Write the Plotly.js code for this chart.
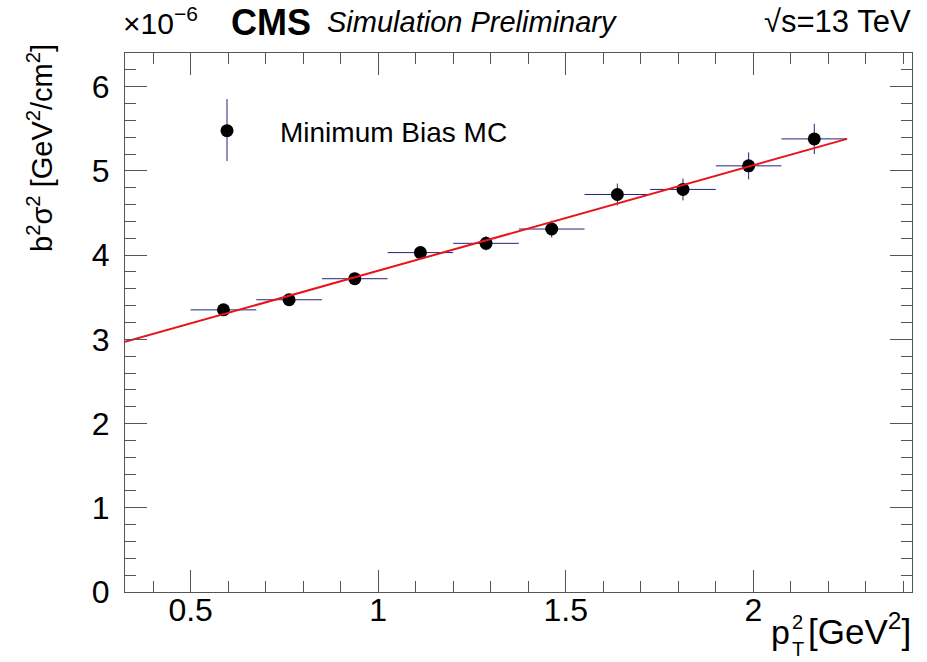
<!DOCTYPE html>
<html>
<head>
<meta charset="utf-8">
<script src="https://cdn.plot.ly/plotly-3.0.1.min.js"></script>
<style>html,body{margin:0;padding:0;background:#fff;}#chart{width:927px;height:662px;}</style>
</head>
<body>
<div id="chart"></div>
<script>
// ---- data (y in units of 1e-6 GeV^2/cm^2) ----
const binCenters = [0.5875, 0.7625, 0.9375, 1.1125, 1.2875, 1.4625, 1.6375, 1.8125, 1.9875, 2.1625];
const binHalfWidth = [0.0875, 0.0875, 0.0875, 0.0875, 0.0875, 0.0875, 0.0875, 0.0875, 0.0875, 0.0875];
const b2sigma2 = [3.35, 3.47, 3.72, 4.03, 4.14, 4.31, 4.72, 4.78, 5.06, 5.38];
const b2sigma2Err = [0.05, 0.06, 0.07, 0.07, 0.085, 0.10, 0.13, 0.13, 0.16, 0.18];
const fitX = [0.325, 2.25];
const fitY = [2.97, 5.38];
const xTickVals = [0.5, 1, 1.5, 2];
const xTickText = ["0.5", "1", "1.5", "2"];
const yTickVals = [0, 1, 2, 3, 4, 5, 6];
const yTickText = ["0", "1", "2", "3", "4", "5", "6"];

// ---- layout geometry (pixels) ----
const W = 927, H = 662;
const M = {l: 125, r: 15, t: 53, b: 70};
const pw = W - M.l - M.r, ph = H - M.t - M.b;
const px = x => (x - M.l) / pw;
const py = y => (H - M.b - y) / ph;

const FONT = "Liberation Sans, Arial, Helvetica, sans-serif";
const frameCol = "#555555";
const errCol = "#23237e";

const traces = [
  {
    x: binCenters, y: b2sigma2, type: "scatter", mode: "markers",
    name: "Minimum Bias MC",
    marker: {color: "#000000", size: 13},
    error_y: {type: "data", array: b2sigma2Err, visible: true, color: errCol, thickness: 1, width: 0},
    error_x: {type: "data", array: binHalfWidth, visible: true, color: errCol, thickness: 1, width: 0},
    showlegend: true
  },
  {
    x: fitX, y: fitY, type: "scatter", mode: "lines", name: "fit",
    line: {color: "#e8141b", width: 2}, showlegend: false
  }
];

const axisCommon = {
  showgrid: false, zeroline: false, showline: true, linecolor: frameCol, linewidth: 1,
  mirror: "ticks", ticks: "inside", tickcolor: frameCol, tickwidth: 1, ticklen: 22,
  tickfont: {family: FONT, size: 32, color: "#000"}
};

const layout = {
  width: W, height: H,
  margin: M,
  paper_bgcolor: "#ffffff", plot_bgcolor: "#ffffff",
  font: {family: FONT, color: "#000"},
  xaxis: Object.assign({}, axisCommon, {
    range: [0.325, 2.423], tickmode: "array", tickvals: xTickVals, ticktext: xTickText,
    ticklabelstandoff: -10,
    minor: {dtick: 0.1, tick0: 0, ticks: "inside", ticklen: 11, tickcolor: frameCol, tickwidth: 1, showgrid: false}
  }),
  yaxis: Object.assign({}, axisCommon, {
    range: [0, 6.4], tickmode: "array", tickvals: yTickVals, ticktext: yTickText,
    ticklabelstandoff: 8,
    minor: {dtick: 0.2, tick0: 0, ticks: "inside", ticklen: 11, tickcolor: frameCol, tickwidth: 1, showgrid: false}
  }),
  showlegend: true,
  legend: {
    x: px(174), y: py(131), xanchor: "left", yanchor: "middle",
    bgcolor: "rgba(0,0,0,0)", borderwidth: 0,
    font: {family: FONT, size: 28, color: "#000"}, itemwidth: 96
  },
  shapes: [
    {type: "line", xref: "paper", yref: "paper", x0: px(227), x1: px(227), y0: py(99), y1: py(161),
     line: {color: errCol, width: 1}, layer: "below"}
  ],
  annotations: [
    {text: "×10<sup>−6</sup>", xref: "paper", yref: "paper", x: px(121), y: py(21), xanchor: "left", yanchor: "middle",
     showarrow: false, font: {family: FONT, size: 30, color: "#000"}},
    {text: "<b>CMS</b>", xref: "paper", yref: "paper", x: px(229), y: py(22), xanchor: "left", yanchor: "middle",
     showarrow: false, font: {family: FONT, size: 36, color: "#000"}},
    {text: "<i>Simulation Preliminary</i>", xref: "paper", yref: "paper", x: px(325), y: py(22), xanchor: "left", yanchor: "middle",
     showarrow: false, font: {family: FONT, size: 29, color: "#000"}},
    {text: "√s=13 TeV", xref: "paper", yref: "paper", x: px(913), y: py(21), xanchor: "right", yanchor: "middle",
     showarrow: false, font: {family: FONT, size: 31, color: "#000"}},
    {text: "b<sup>2</sup>σ<sup>2</sup> [GeV<sup>2</sup>/cm<sup>2</sup>]", xref: "paper", yref: "paper", textangle: -90,
     x: px(40), y: py(42), xanchor: "center", yanchor: "top",
     showarrow: false, font: {family: FONT, size: 29, color: "#000"}},
    {text: "[GeV<sup>2</sup>]", xref: "paper", yref: "paper", x: px(913), y: py(629), xanchor: "right", yanchor: "middle",
     showarrow: false, font: {family: FONT, size: 35, color: "#000"}},
    {text: "p", xref: "paper", yref: "paper", x: px(792), y: py(632), xanchor: "right", yanchor: "middle",
     showarrow: false, font: {family: FONT, size: 34, color: "#000"}},
    {text: "2", xref: "paper", yref: "paper", x: px(790), y: py(622), xanchor: "left", yanchor: "middle",
     showarrow: false, font: {family: FONT, size: 20, color: "#000"}},
    {text: "T", xref: "paper", yref: "paper", x: px(790), y: py(649), xanchor: "left", yanchor: "middle",
     showarrow: false, font: {family: FONT, size: 20, color: "#000"}}
  ]
};

Plotly.newPlot("chart", traces, layout, {displayModeBar: false, staticPlot: true});
</script>
</body>
</html>
